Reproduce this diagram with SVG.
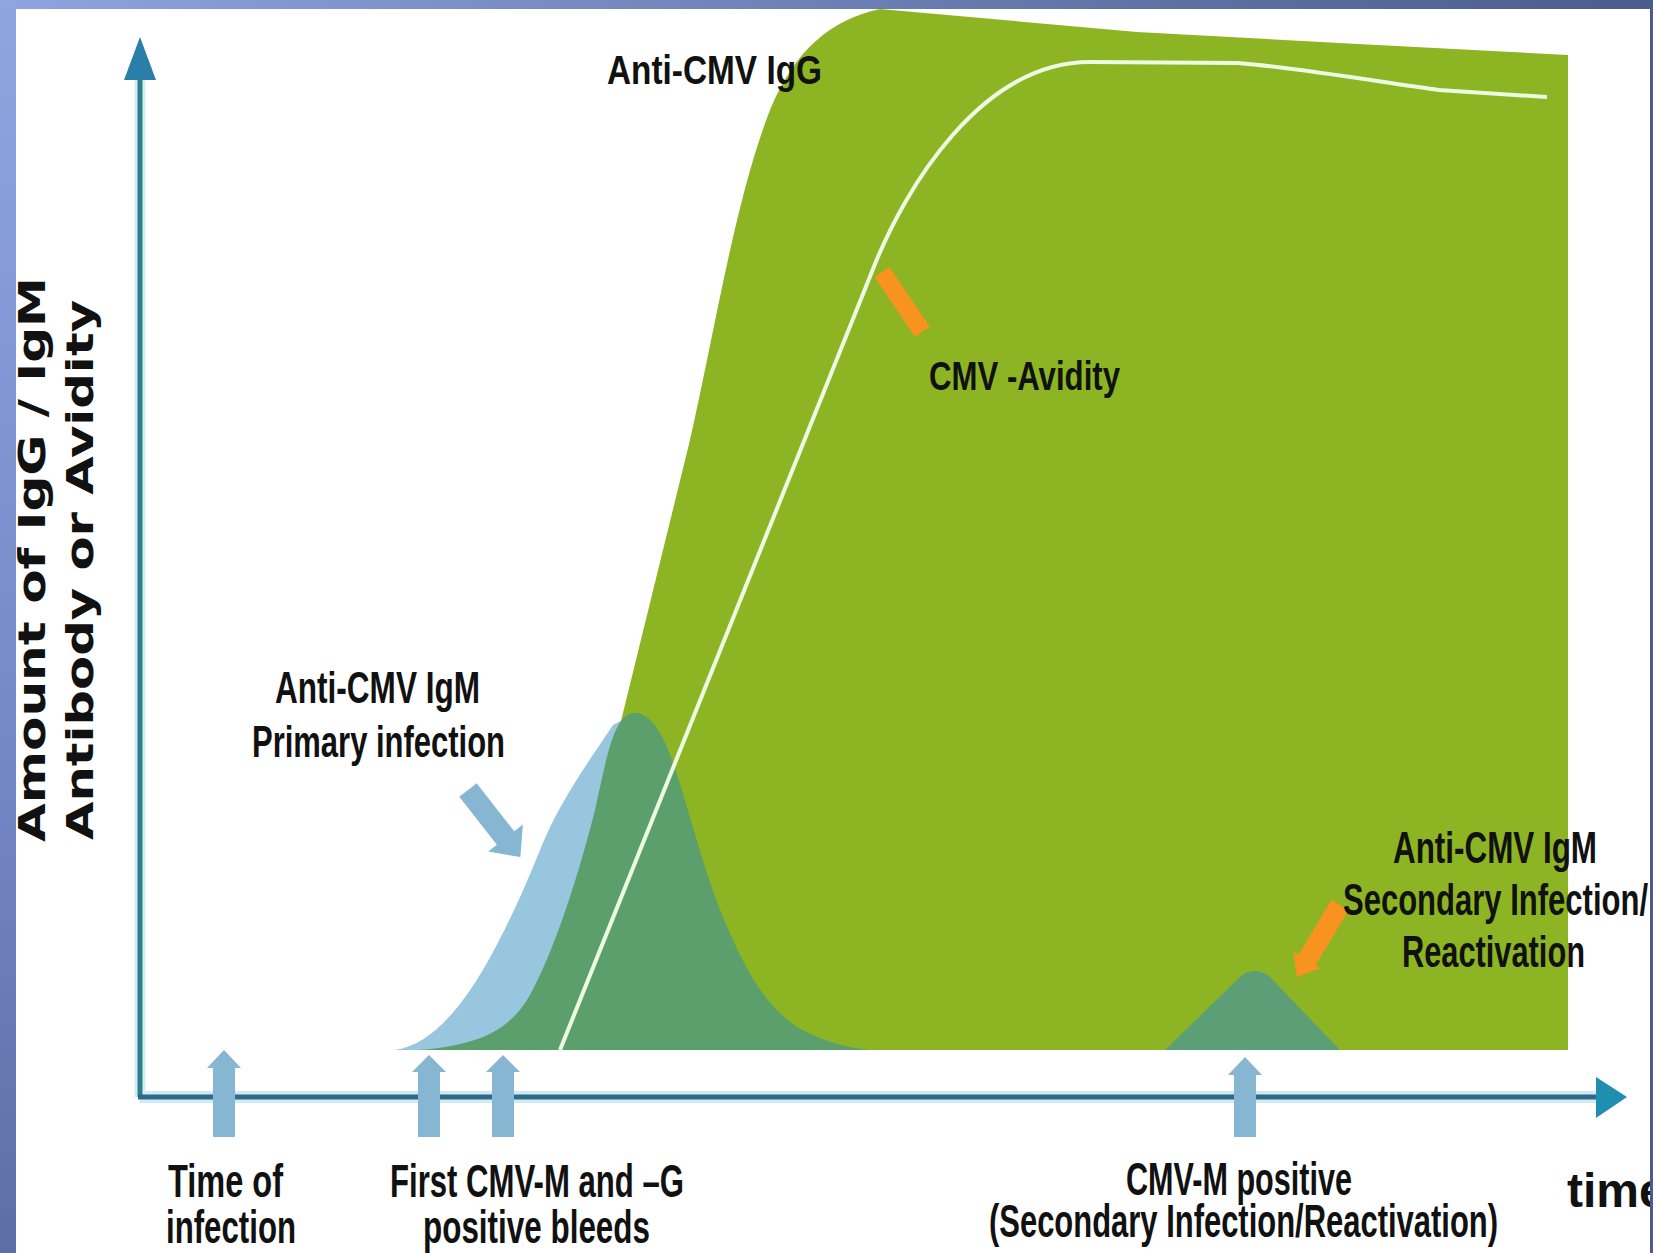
<svg xmlns="http://www.w3.org/2000/svg" width="1653" height="1253" viewBox="0 0 1653 1253">
  <defs>
    <linearGradient id="gTop" x1="0" y1="0" x2="1" y2="0">
      <stop offset="0" stop-color="#8ea4de"/>
      <stop offset="1" stop-color="#4b5c8c"/>
    </linearGradient>
    <linearGradient id="gLeft" x1="0" y1="0" x2="0" y2="1">
      <stop offset="0" stop-color="#8fa5e0"/>
      <stop offset="0.6" stop-color="#7488c6"/>
      <stop offset="1" stop-color="#5d6ea6"/>
    </linearGradient>
    <style>
      .lbl { font-family: "Liberation Sans Narrow", "Liberation Sans", Arial, sans-serif; font-weight: bold; fill: #111; }
      .ylbl { font-family: "DejaVu Sans", Verdana, sans-serif; font-weight: bold; fill: #111; font-size: 38px; }
      .uparrow { fill: #86b6d2; }
      .orange { fill: #f7931e; }
    </style>
  </defs>

  <g id="background">
    <rect x="0" y="0" width="1653" height="1253" fill="#ffffff"/>
  </g>

  <g id="igg-area">
    <path d="M 430,1050 C 520,1040 585,880 622,717 L 690,440 C 715,330 735,200 770,110 C 795,50 830,20 880,9 L 936,14 L 1137,32 L 1339,43 L 1568,55 L 1568,1050 Z" fill="#8db523"/>
  </g>

  <g id="igm-primary">
    <path d="M 395,1050 C 420,1046 440,1030 463,1000 C 490,965 520,900 540,850 C 560,800 590,760 613,725 L 630,716 L 640,1050 Z" fill="#98c6de"/>
    <path d="M 420,1050 C 480,1045 510,1030 530,995 C 555,950 580,870 595,810 C 605,765 612,725 627,715 C 645,705 662,730 672,760 C 690,810 705,880 730,933 C 750,980 775,1020 813,1035 C 830,1043 850,1048 870,1050 Z" fill="#5a9f6c"/>
  </g>

  <g id="igm-secondary">
    <path d="M 1165,1050 L 1241,976 Q 1255,966 1269,976 L 1340,1050 Z" fill="#5c9f76"/>
  </g>

  <g id="avidity-curve">
    <path d="M 560,1050 L 875,264 C 905,190 980,62 1090,62 L 1238,63 C 1300,68 1380,82 1439,90 L 1547,97" fill="none" stroke="#ecfbe2" stroke-width="4"/>
  </g>

  <g id="axes">
    <line x1="140" y1="1097" x2="1600" y2="1097" stroke="#cfeaf3" stroke-width="12"/>
    <line x1="140" y1="1097" x2="140" y2="78" stroke="#d5eef4" stroke-width="11"/>
    <line x1="140" y1="1097" x2="140" y2="78" stroke="#2f7f8f" stroke-width="5"/>
    <line x1="138" y1="1097" x2="1598" y2="1097" stroke="#2d6a8a" stroke-width="5"/>
    <polygon points="124,80 156,80 140,37" fill="#2a7fa8"/>
    <polygon points="1596,1077 1596,1118 1627,1097" fill="#1f8fb0"/>
  </g>

  <g id="connectors">
    <path class="uparrow" d="M213,1137 L213,1068 L207,1068 L224,1050 L241,1068 L235,1068 L235,1137 Z"/>
    <path class="uparrow" d="M418,1137 L418,1072 L412,1072 L429,1055 L446,1072 L440,1072 L440,1137 Z"/>
    <path class="uparrow" d="M492,1137 L492,1072 L486,1072 L503,1055 L520,1072 L514,1072 L514,1137 Z"/>
    <path class="uparrow" d="M1234,1137 L1234,1075 L1228,1075 L1245,1057 L1262,1075 L1256,1075 L1256,1137 Z"/>
    <path class="uparrow" d="M0,-11 L61,-11 L61,-22 L85,0 L61,22 L61,11 L0,11 Z" transform="translate(468,790) rotate(52)"/>
    <path class="orange" d="M0,-9 L72,-9 L72,9 L0,9 Z" transform="translate(882,272) rotate(56)"/>
    <path class="orange" d="M0,-10 L64,-10 L64,-16 L84,0 L64,16 L64,10 L0,10 Z" transform="translate(1340,905) rotate(121)"/>
  </g>

  <g id="labels">
    <text class="lbl" x="607" y="84" font-size="40" textLength="215" lengthAdjust="spacingAndGlyphs">Anti-CMV  IgG</text>
    <text class="lbl" x="929" y="390" font-size="40" textLength="191" lengthAdjust="spacingAndGlyphs">CMV -Avidity</text>
    <text class="lbl" x="275" y="703" font-size="44" textLength="205" lengthAdjust="spacingAndGlyphs">Anti-CMV IgM</text>
    <text class="lbl" x="252" y="757" font-size="44" textLength="253" lengthAdjust="spacingAndGlyphs">Primary infection</text>
    <text class="lbl" x="1393" y="863" font-size="44" textLength="204" lengthAdjust="spacingAndGlyphs">Anti-CMV IgM</text>
    <text class="lbl" x="1343" y="915" font-size="44" textLength="305" lengthAdjust="spacingAndGlyphs">Secondary Infection/</text>
    <text class="lbl" x="1402" y="967" font-size="44" textLength="183" lengthAdjust="spacingAndGlyphs">Reactivation</text>
    <text class="lbl" x="168" y="1197" font-size="46" textLength="115" lengthAdjust="spacingAndGlyphs">Time of</text>
    <text class="lbl" x="166" y="1243" font-size="46" textLength="130" lengthAdjust="spacingAndGlyphs">infection</text>
    <text class="lbl" x="390" y="1197" font-size="46" textLength="294" lengthAdjust="spacingAndGlyphs">First CMV-M and –G</text>
    <text class="lbl" x="423" y="1243" font-size="46" textLength="227" lengthAdjust="spacingAndGlyphs">positive bleeds</text>
    <text class="lbl" x="1126" y="1195" font-size="46" textLength="226" lengthAdjust="spacingAndGlyphs">CMV-M positive</text>
    <text class="lbl" x="989" y="1237" font-size="46" textLength="509" lengthAdjust="spacingAndGlyphs">(Secondary Infection/Reactivation)</text>
    <text x="1567" y="1207" font-size="48" font-family="Liberation Sans, Arial, sans-serif" font-weight="bold" fill="#111">time</text>
    <text class="ylbl" transform="translate(45,842) rotate(-90)" textLength="565" lengthAdjust="spacingAndGlyphs">Amount of IgG / IgM</text>
    <text class="ylbl" transform="translate(93,840) rotate(-90)" textLength="540" lengthAdjust="spacingAndGlyphs">Antibody or Avidity</text>
  </g>

  <g id="frame">
    <rect x="0" y="0" width="1653" height="9" fill="url(#gTop)"/>
    <rect x="0" y="0" width="16" height="1253" fill="url(#gLeft)"/>
    <rect x="1650" y="0" width="3" height="1253" fill="#4a5c8c"/>
  </g>
</svg>
